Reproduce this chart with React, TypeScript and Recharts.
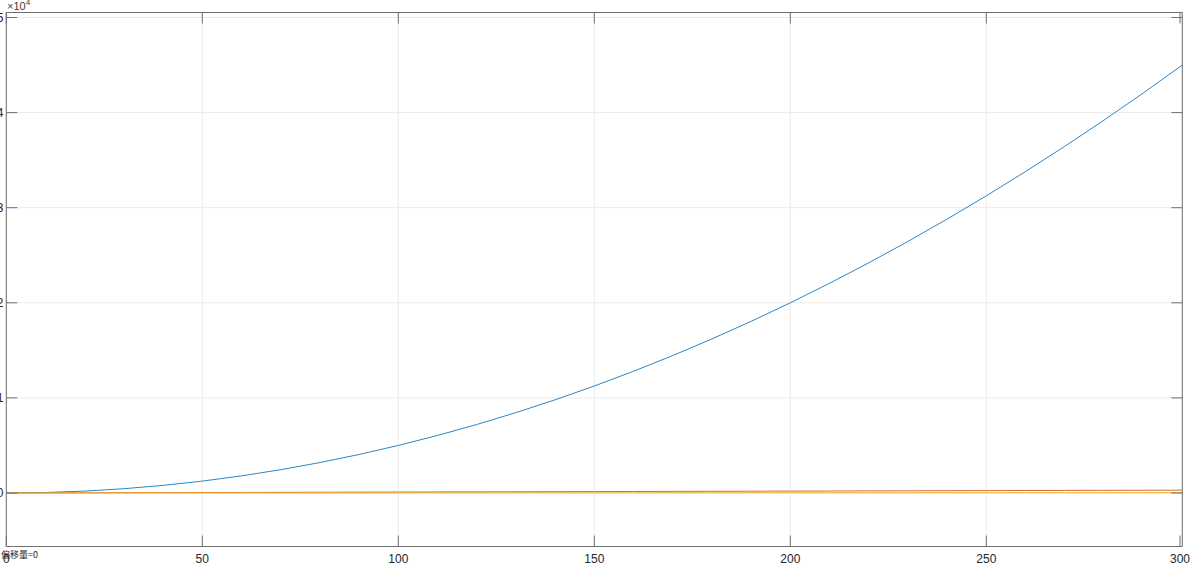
import { LineChart, Line, XAxis, YAxis, CartesianGrid } from 'recharts'

const xValues = [0, 10, 20, 30, 40, 50, 60, 70, 80, 90, 100, 110, 120, 130, 140, 150, 160, 170, 180, 190, 200, 210, 220, 230, 240, 250, 260, 270, 280, 290, 300]
const blueValues = [0, 50, 200, 450, 800, 1250, 1800, 2450, 3200, 4050, 5000, 6050, 7200, 8450, 9800, 11250, 12800, 14450, 16200, 18050, 20000, 22050, 24200, 26450, 28800, 31250, 33800, 36450, 39200, 42050, 45000]
const orangeValues = [0, 10, 20, 30, 40, 50, 60, 70, 80, 90, 100, 110, 120, 130, 140, 150, 160, 170, 180, 190, 200, 210, 220, 230, 240, 250, 260, 270, 280, 290, 300]
const yellowValues = [0, 1, 2, 3, 4, 5, 6, 7, 8, 9, 10, 11, 12, 13, 14, 15, 16, 17, 18, 19, 20, 21, 22, 23, 24, 25, 26, 27, 28, 29, 30]

const xTicks = [0, 50, 100, 150, 200, 250, 300]
const yTicks = [0, 10000, 20000, 30000, 40000, 50000]
const xDomain = [0, 300]
const yDomain = [-5626, 50526]

const data = xValues.map((x, i) => ({
  x,
  blue: blueValues[i],
  orange: orangeValues[i],
  yellow: yellowValues[i],
}))

const axisColor = '#707070'
const font = 'Liberation Sans, Arial, sans-serif'
const TICK = 11

// matlab style: tick marks point into the box, labels outside
const BottomTick = (props: any) => (
  <g>
    <line x1={props.x} x2={props.x} y1={props.y} y2={props.y - TICK} stroke={axisColor} />
    <text x={props.x} y={props.y + 16} textAnchor="middle" fontSize={12} fill="#262626" fontFamily={font}>
      {props.payload.value}
    </text>
  </g>
)

const LeftTick = (props: any) => (
  <g>
    <line x1={props.x} x2={props.x + TICK} y1={props.y} y2={props.y} stroke={axisColor} />
    <text x={props.x - 3} y={props.y + 4} textAnchor="end" fontSize={12} fill="#262626" fontFamily={font}>
      {props.payload.value / 10000}
    </text>
  </g>
)

const TopTick = (props: any) => (
  <line x1={props.x} x2={props.x} y1={props.y} y2={props.y + TICK} stroke={axisColor} />
)

const RightTick = (props: any) => (
  <line x1={props.x} x2={props.x - TICK} y1={props.y} y2={props.y} stroke={axisColor} />
)

export default function App() {
  return (
    <div style={{ position: 'absolute', left: 0, top: 0, width: 1192, height: 563, background: '#fff', overflow: 'hidden' }}>
      <LineChart width={1192} height={563} data={data} margin={{ top: 11.5, right: 8.7, left: 5.3, bottom: 0 }}>
        <CartesianGrid xAxisId="x" yAxisId="y" stroke="#ebebeb" />
        <XAxis
          xAxisId="x"
          dataKey="x"
          type="number"
          domain={xDomain}
          ticks={xTicks}
          height={16.5}
          tickLine={false}
          tickSize={0}
          tickMargin={0}
          stroke={axisColor}
          tick={<BottomTick />}
          allowDataOverflow
        />
        <YAxis
          yAxisId="y"
          type="number"
          domain={yDomain}
          ticks={yTicks}
          width={1}
          tickLine={false}
          tickSize={0}
          tickMargin={0}
          stroke={axisColor}
          tick={<LeftTick />}
          allowDataOverflow
        />
        <XAxis xAxisId="xt" dataKey="x" orientation="top" type="number" domain={xDomain} ticks={xTicks} height={1} tickLine={false} tickSize={0} tickMargin={0} stroke={axisColor} tick={<TopTick />} allowDataOverflow />
        <YAxis yAxisId="yr" orientation="right" type="number" domain={yDomain} ticks={yTicks} width={1} tickLine={false} tickSize={0} tickMargin={0} stroke={axisColor} tick={<RightTick />} allowDataOverflow />
        {/* invisible copy so the top/right axes get a domain */}
        <Line xAxisId="xt" yAxisId="yr" dataKey="blue" stroke="none" dot={false} activeDot={false} isAnimationActive={false} />
        <Line xAxisId="x" yAxisId="y" type="linear" dataKey="blue" stroke="#2a86c9" strokeWidth={1} dot={false} isAnimationActive={false} />
        <Line xAxisId="x" yAxisId="y" type="linear" dataKey="orange" stroke="#dd6a35" strokeWidth={1} dot={false} isAnimationActive={false} />
        <Line xAxisId="x" yAxisId="y" type="linear" dataKey="yellow" stroke="#EDB120" strokeWidth={1} dot={false} isAnimationActive={false} />
      </LineChart>
      <div style={{ position: 'absolute', left: 7, top: -2, fontSize: 11, color: '#404040', fontFamily: font }}>
        ×10<sup style={{ fontSize: 8 }}>4</sup>
      </div>
      <div style={{ position: 'absolute', left: 1, top: 548, fontSize: 9, color: '#262626', fontFamily: '"Noto Sans CJK SC", sans-serif' }}>
        偏移量=0
      </div>
    </div>
  )
}
